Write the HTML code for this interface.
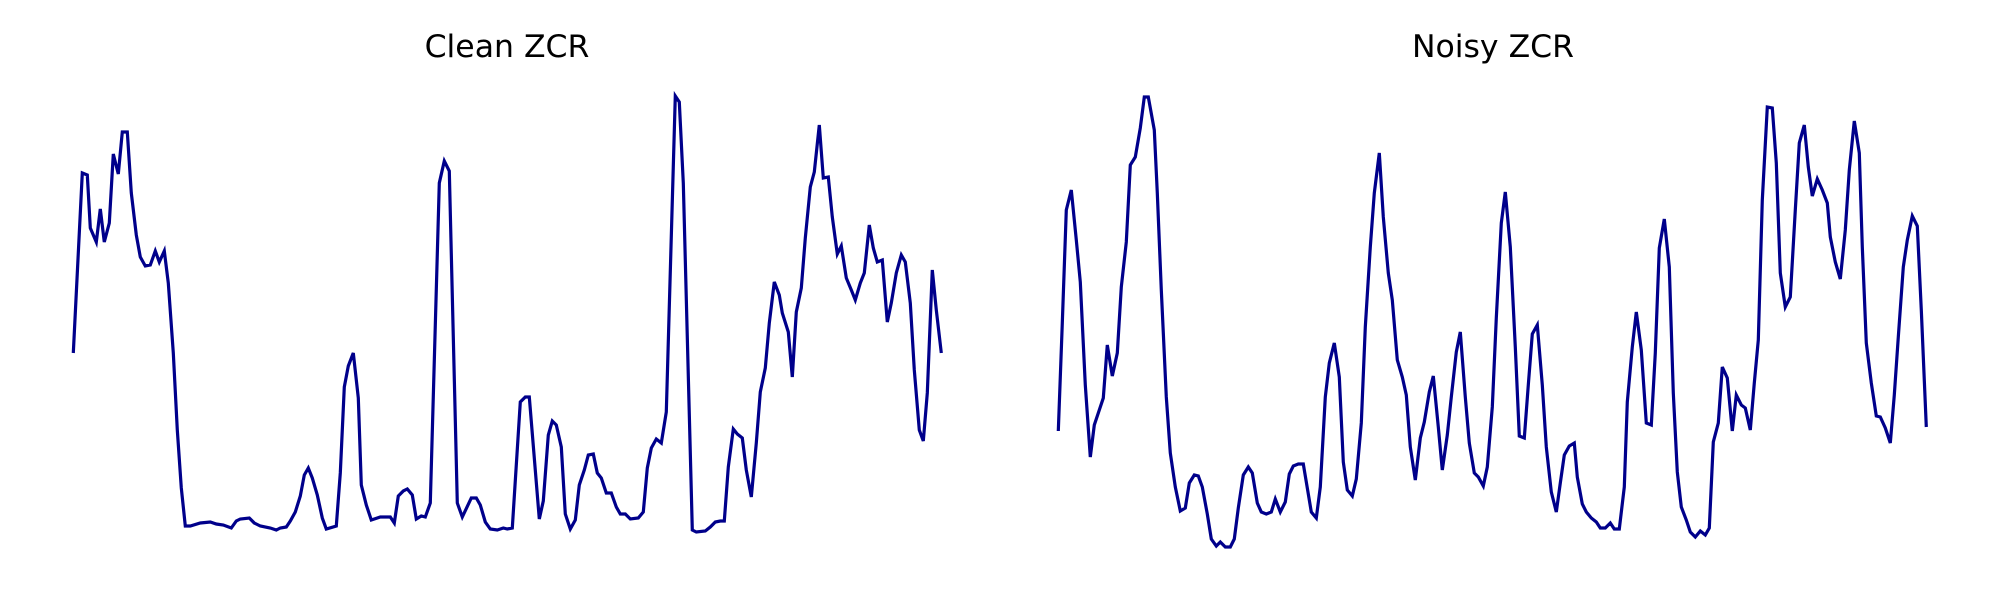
<!DOCTYPE html>
<html><head><meta charset="utf-8"><style>
html,body{margin:0;padding:0;background:#fff;}
svg{display:block;}
text{font-family:"DejaVu Sans","Liberation Sans",sans-serif;}
</style></head><body>
<svg id="chart" width="2000" height="600" viewBox="0 0 2000 600" xmlns="http://www.w3.org/2000/svg">
<rect width="2000" height="600" fill="#fff"/>
<text x="507" y="57" font-size="31.5" text-anchor="middle" fill="#000">Clean ZCR</text>
<text x="1493" y="57" font-size="31.5" text-anchor="middle" fill="#000">Noisy ZCR</text>
<g id="panels"></g>
</svg>
<script>
const cleanFrames=[0,9,14,17,23,27,31,36,40,45,49,54,58,63,67,72,77,82,86,91,95,100,104,108,112,117,127,137,143,150,158,163,167,176,181,187,197,203,207,213,217,222,227,231,235,239,244,249,253,263,267,271,275,280,285,288,293,298,307,317,321,325,330,334,339,343,348,352,357,366,371,376,384,389,398,403,407,412,417,424,430,434,439,447,452,456,466,470,475,479,483,488,492,497,502,506,511,515,520,524,528,533,538,543,547,552,557,565,570,574,578,583,588,593,602,606,610,619,623,632,637,642,647,651,655,660,664,669,673,678,683,687,692,696,701,706,709,715,719,723,728,732,737,741,746,750,755,759,764,768,773,778,782,787,791,796,800,804,809,814,818,823,828,832,837,841,846,850,854,859,863,868];
const cleanValues=[207,387,385,332,318,351,318,337,406,386,428,428,367,325,303,294,295,309,298,309,277,207,130,72,34,34,37,38,36,35,32,39,41,42,37,34,32,30,32,33,39,48,64,85,92,82,65,42,31,34,87,173,194,207,162,75,55,40,43,43,37,64,69,71,65,41,44,43,57,377,399,389,57,43,62,62,55,38,31,30,32,31,32,158,163,163,41,59,125,139,135,113,46,31,40,75,90,105,106,87,82,67,67,53,46,46,41,42,48,92,112,121,117,148,464,458,377,30,28,29,33,38,39,39,93,131,126,122,90,63,117,168,192,237,278,265,247,228,183,248,272,322,373,388,435,382,383,343,306,314,282,270,260,277,287,335,312,298,300,238,257,287,305,298,257,190,130,119,167,290,250,207];
const noisyFrames=[0,4,8,13,18,22,27,32,36,41,45,49,54,59,63,68,72,77,82,86,90,96,99,103,108,112,117,122,127,131,136,140,144,149,153,158,162,167,172,176,180,185,190,194,199,203,208,213,217,222,227,231,235,240,245,249,253,258,262,267,271,276,281,285,289,294,298,303,307,312,316,321,325,330,334,339,344,348,352,357,362,366,371,375,380,384,389,393,398,402,407,411,416,420,425,429,434,438,443,447,452,457,461,466,470,474,479,484,488,493,498,502,506,511,516,519,524,528,533,538,542,547,552,556,561,566,569,574,578,583,588,593,597,601,606,611,615,619,623,628,632,637,642,647,651,655,660,664,669,674,678,683,687,692,696,700,704,709,714,718,722,727,732,737,741,746,750,754,759,764,769,772,777,782,787,791,796,801,804,808,813,818,822,827,832,836,840,845,849,854,859,863,868];
const noisyValues=[129,237,350,370,320,278,175,103,135,150,162,215,184,207,273,318,395,403,432,463,463,430,367,270,163,107,73,49,52,77,85,84,73,46,21,14,18,13,13,21,52,85,93,87,57,48,46,48,61,48,58,86,94,96,96,72,48,42,73,163,197,217,183,98,70,64,81,137,233,313,367,407,343,287,260,200,183,165,113,80,122,138,168,184,133,90,125,163,208,228,163,117,87,83,74,93,153,242,337,368,313,213,124,122,175,226,235,175,113,68,48,77,105,114,117,83,56,48,42,38,32,32,37,31,31,73,158,213,248,210,137,135,207,312,341,293,167,88,53,40,28,23,29,25,32,118,137,193,182,129,165,155,152,130,177,220,360,453,452,397,287,253,263,350,417,435,393,364,381,370,357,323,298,281,330,390,439,407,313,217,177,144,143,132,117,165,223,293,320,344,334,250,133];

const panels=document.getElementById('panels');
const NS='http://www.w3.org/2000/svg';
function xScaleClean(t){return 73.3+t;}
function xScaleNoisy(t){return 1058.3+t;}
function yScale(v){return 560-v;}
function drawLine(frames,values,xs,name){
  let d='';
  for(let i=0;i<frames.length;i++){
    d+=(i?'L':'M')+xs(frames[i]).toFixed(1)+','+yScale(values[i]).toFixed(1);
  }
  const p=document.createElementNS(NS,'path');
  p.setAttribute('d',d);
  p.setAttribute('fill','none');
  p.setAttribute('stroke','#00008b');
  p.setAttribute('stroke-width','3.2');
  p.setAttribute('stroke-linejoin','miter');
  
  
  panels.appendChild(p);
}
drawLine(cleanFrames,cleanValues,xScaleClean,'clean-zcr-line');
drawLine(noisyFrames,noisyValues,xScaleNoisy,'noisy-zcr-line');
</script>
</body></html>
